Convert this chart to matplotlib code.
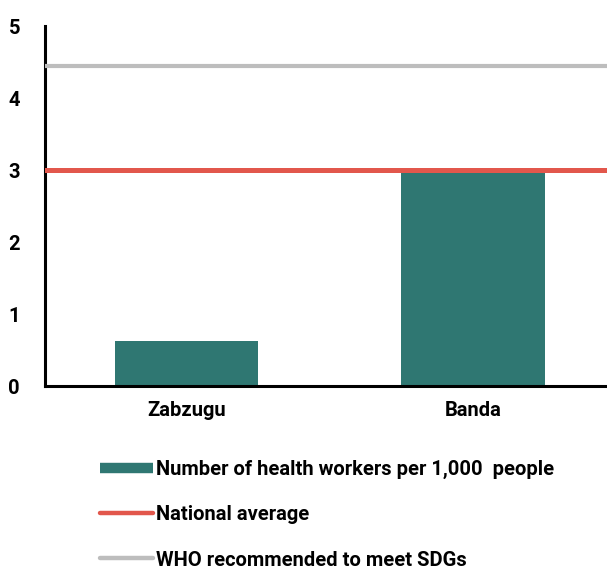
import matplotlib
matplotlib.use('Agg')
import matplotlib.pyplot as plt
from matplotlib.lines import Line2D

plt.rcParams['font.family'] = ['Roboto', 'DejaVu Sans']

districts = ['Zabzugu', 'Banda']
workers_per_1000 = [0.63, 2.97]
national_average = 3.0
who_recommended = 4.45

teal = '#2F7772'
red = '#E2574C'
grey = '#BDBDBD'

fig = plt.figure(figsize=(6.07, 5.69), dpi=100)
ax = fig.add_axes([45 / 607, 183 / 569, 562 / 607, 360 / 569])

x = range(len(districts))
ax.bar(x, workers_per_1000, width=0.5, color=teal, zorder=2)
ax.axhline(national_average, color=red, linewidth=3.6, zorder=3)
ax.axhline(who_recommended, color=grey, linewidth=3.0, zorder=3)

ax.set_xlim(-0.494, 1.468)
ax.set_ylim(0, 5)
ax.set_yticks(range(0, 6))
ax.set_xticks(list(x))
ax.set_xticklabels(districts)
ax.tick_params(axis='both', length=0, labelsize=14.5)
ax.tick_params(axis='y', pad=18)
ax.tick_params(axis='x', pad=11)
for lab in ax.get_xticklabels() + ax.get_yticklabels():
    lab.set_fontweight('bold')

for side in ['top', 'right']:
    ax.spines[side].set_visible(False)
for side in ['left', 'bottom']:
    ax.spines[side].set_linewidth(2.2)
    ax.spines[side].set_color('black')

handles = [
    Line2D([0], [0], color=teal, linewidth=7.5, solid_capstyle='butt'),
    Line2D([0], [0], color=red, linewidth=3.2, solid_capstyle='round'),
    Line2D([0], [0], color=grey, linewidth=3.2, solid_capstyle='round'),
]
labels = ['Number of health workers per 1,000  people', 'National average',
          'WHO recommended to meet SDGs']
fig.legend(handles, labels, loc='upper left', bbox_to_anchor=(92 / 607, 1 - 452 / 569),
           frameon=False, borderaxespad=0, handlelength=2.65, handletextpad=0.15,
           labelspacing=1.3, prop={'size': 14.5, 'weight': 'bold'})

fig.savefig('out.png', dpi=100)
